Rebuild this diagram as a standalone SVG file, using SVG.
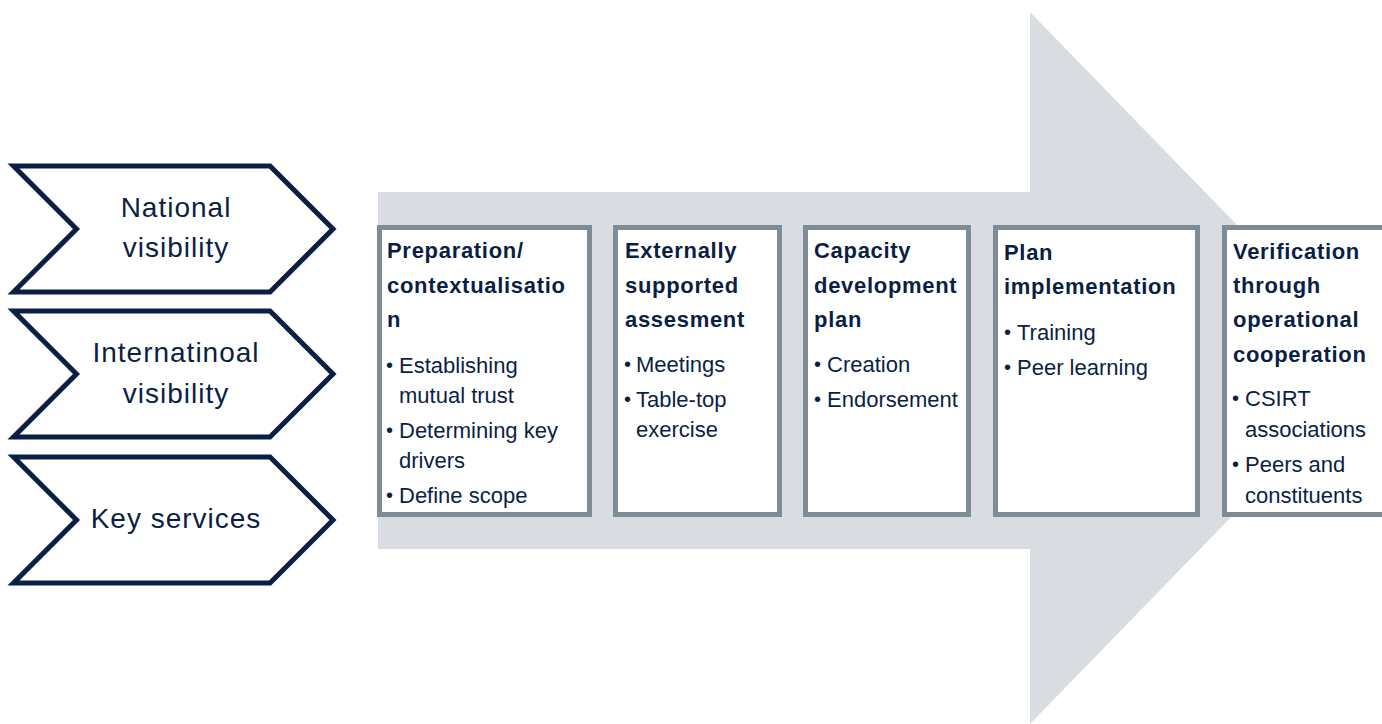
<svg xmlns="http://www.w3.org/2000/svg" width="1382" height="724" viewBox="0 0 1382 724">
<style>
.chev{fill:#ffffff;stroke:#0b1f45;stroke-width:5;stroke-linejoin:miter;stroke-miterlimit:10}
.ctext{font-family:"Liberation Sans",Arial,sans-serif;font-size:28px;fill:#0b1f45;text-anchor:middle;letter-spacing:1px}
.box{fill:#ffffff;stroke:#7f8b95;stroke-width:5}
.title{font-family:"Liberation Sans",Arial,sans-serif;font-size:22px;font-weight:bold;fill:#0b1f45;letter-spacing:0.7px}
.item{font-family:"Liberation Sans",Arial,sans-serif;font-size:22px;fill:#0b1f45}
.dot{font-family:"Liberation Sans",Arial,sans-serif;font-size:20px;fill:#0b1f45}
</style>
<rect width="1382" height="724" fill="#ffffff"/>
<polygon id="process-arrow" points="378,192 1030,192 1030,12 1376,368 1030,724 1030,549 378,549" fill="#d9dde1"/>
<g id="connectors"/>
<g id="chevron-national">
<polygon class="chev" points="13.5,166 270,166 333,229 270,292 13.5,292 76.5,229"/>
<text class="ctext" x="176" y="217">National</text>
<text class="ctext" x="176" y="257">visibility</text>
</g>
<g id="chevron-international">
<polygon class="chev" points="13.5,311 270,311 333,374 270,437 13.5,437 76.5,374"/>
<text class="ctext" x="176" y="362">Internatinoal</text>
<text class="ctext" x="176" y="403">visibility</text>
</g>
<g id="chevron-key">
<polygon class="chev" points="13.5,457 270,457 333,520 270,583 13.5,583 76.5,520"/>
<text class="ctext" x="176" y="528">Key services</text>
</g>
<g id="box-preparation">
<rect class="box" x="379.5" y="227.5" width="210" height="287"/>
<text class="title" x="387" y="258">Preparation/</text>
<text class="title" x="387" y="292.5">contextualisatio</text>
<text class="title" x="387" y="327">n</text>
<text class="dot" x="386" y="372">•</text>
<text class="item" x="399" y="373">Establishing</text>
<text class="item" x="399" y="403">mutual trust</text>
<text class="dot" x="386" y="437">•</text>
<text class="item" x="399" y="438">Determining key</text>
<text class="item" x="399" y="468">drivers</text>
<text class="dot" x="386" y="502">•</text>
<text class="item" x="399" y="503">Define scope</text>
</g>
<g id="box-assessment">
<rect class="box" x="615.5" y="227.5" width="164" height="287"/>
<text class="title" x="625" y="258">Externally</text>
<text class="title" x="625" y="292.5">supported</text>
<text class="title" x="625" y="327">assesment</text>
<text class="dot" x="624" y="371">•</text>
<text class="item" x="636" y="372">Meetings</text>
<text class="dot" x="624" y="406">•</text>
<text class="item" x="636" y="407">Table-top</text>
<text class="item" x="636" y="437">exercise</text>
</g>
<g id="box-capacity">
<rect class="box" x="805.5" y="227.5" width="163" height="287"/>
<text class="title" x="814" y="258">Capacity</text>
<text class="title" x="814" y="292.5">development</text>
<text class="title" x="814" y="327">plan</text>
<text class="dot" x="814" y="371">•</text>
<text class="item" x="827" y="372">Creation</text>
<text class="dot" x="814" y="406">•</text>
<text class="item" x="827" y="407">Endorsement</text>
</g>
<g id="box-implementation">
<rect class="box" x="995.5" y="227.5" width="202" height="287"/>
<text class="title" x="1004" y="260">Plan</text>
<text class="title" x="1004" y="294">implementation</text>
<text class="dot" x="1004" y="339">•</text>
<text class="item" x="1017" y="340">Training</text>
<text class="dot" x="1004" y="374">•</text>
<text class="item" x="1017" y="375">Peer learning</text>
</g>
<g id="box-verification">
<rect class="box" x="1224.5" y="227.5" width="200" height="287"/>
<text class="title" x="1233" y="259">Verification</text>
<text class="title" x="1233" y="293">through</text>
<text class="title" x="1233" y="327">operational</text>
<text class="title" x="1233" y="362">cooperation</text>
<text class="dot" x="1232" y="405">•</text>
<text class="item" x="1245" y="406">CSIRT</text>
<text class="item" x="1245" y="437">associations</text>
<text class="dot" x="1232" y="471">•</text>
<text class="item" x="1245" y="472">Peers and</text>
<text class="item" x="1245" y="503">constituents</text>
</g>
</svg>
